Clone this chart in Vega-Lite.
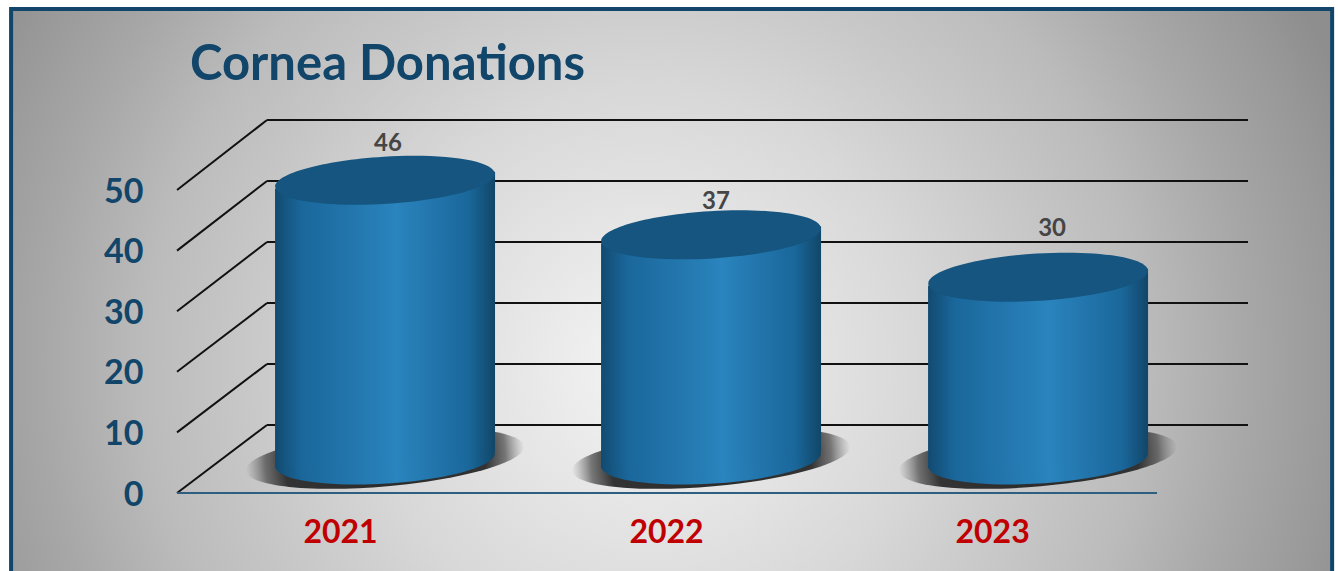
{
"$schema":"https://vega.github.io/schema/vega-lite/v6.json",
"width":1338,"height":571,"padding":0,"autosize":{"type":"none"},"background":"white",
"config":{"view":{"stroke":null},"font":"Lato"},
"title":{"text":"Cornea Donations","anchor":"start","frame":"group","orient":"top","offset":0,"dx":190,"dy":129,"baseline":"alphabetic","font":"Lato","fontSize":49,"fontWeight":"bold","color":"#12456a"},
"encoding":{
 "x":{"field":"x","type":"quantitative","title":null,"scale":{"domain":[2019.957,2024.061],"nice":false,"zero":false},"axis":{"orient":"bottom","offset":-78,"values":[2021,2022,2023],"format":"d","domain":false,"ticks":false,"grid":false,"labelPadding":24,"labelFontSize":32,"labelFontWeight":"bold","labelColor":"#c00000","labelFont":"Lato","zindex":1}},
 "y":{"field":"y","type":"quantitative","title":null,"scale":{"domain":[-12.871,81.353],"nice":false,"zero":false},"axis":{"orient":"left","offset":-177,"values":[0,10,20,30,40,50],"domain":false,"ticks":false,"grid":false,"labelPadding":34,"labelOffset":2,"labelFontSize":34,"labelFontWeight":"bold","labelColor":"#12456a","labelFont":"Lato","zindex":1}}
},
"layer":[
 {"data":{"values":[{"x":2019.991,"x2":2024.043,"y":79.87,"y2":-16}]},
  "mark":{"type":"rect","stroke":"#12456a","strokeWidth":4,"fill":{"gradient":"radial","x1":0.48,"y1":0.55,"r1":0,"x2":0.48,"y2":0.55,"r2":0.567,"stops":[{"offset":0,"color":"#f4f4f4"},{"offset":0.37,"color":"#d8d8d8"},{"offset":0.53,"color":"#c8c8c8"},{"offset":0.67,"color":"#bbbbbb"},{"offset":0.8,"color":"#a8a8a8"},{"offset":0.93,"color":"#989898"},{"offset":1,"color":"#8e8e8e"}]}},
  "encoding":{"x2":{"field":"x2"},"y2":{"field":"y2"}}},
 {"data":{"values":[
   {"x":2020.776,"x2":2023.785,"y":11.22,"y2":11.22},
   {"x":2020.776,"x2":2023.785,"y":21.29,"y2":21.29},
   {"x":2020.776,"x2":2023.785,"y":31.35,"y2":31.35},
   {"x":2020.776,"x2":2023.785,"y":41.42,"y2":41.42},
   {"x":2020.776,"x2":2023.785,"y":51.49,"y2":51.49},
   {"x":2020.776,"x2":2023.785,"y":61.55,"y2":61.55},
   {"x":2020.5,"x2":2020.776,"y":0,"y2":11.22},
   {"x":2020.5,"x2":2020.776,"y":10,"y2":21.29},
   {"x":2020.5,"x2":2020.776,"y":20,"y2":31.35},
   {"x":2020.5,"x2":2020.776,"y":30,"y2":41.42},
   {"x":2020.5,"x2":2020.776,"y":40,"y2":51.49},
   {"x":2020.5,"x2":2020.776,"y":50,"y2":61.55}
  ]},
  "mark":{"type":"rule","color":"#111111","strokeWidth":2},
  "encoding":{"x2":{"field":"x2"},"y2":{"field":"y2"}}},
 {"data":{"values":[{"x":2020.5,"x2":2023.506,"y":0,"y2":0}]},
  "mark":{"type":"rule","color":"#2f5f80","strokeWidth":2},
  "encoding":{"x2":{"field":"x2"},"y2":{"field":"y2"}}},
 {"data":{"values":[{"x":2021.138,"y":5.7},{"x":2022.138,"y":5.7},{"x":2023.141,"y":5.7}]},
  "mark":{"type":"point","filled":true,"opacity":1,"size":78000,"angle":-5,"shape":"M-1,0A1,0.2,0,1,1,1,0A1,0.2,0,1,1,-1,0Z","fill":{"gradient":"radial","x1":0.5,"y1":0.5,"r1":0,"x2":0.5,"y2":0.5,"r2":0.5,"stops":[{"offset":0,"color":"#2a2a2a"},{"offset":0.72,"color":"#333333"},{"offset":0.86,"color":"rgba(70,70,70,0.7)"},{"offset":1,"color":"rgba(110,110,110,0)"}]}}},
 {"data":{"values":[{"x":2021.138,"y":5.45},{"x":2022.138,"y":5.45},{"x":2023.141,"y":5.45}]},
  "mark":{"type":"point","filled":true,"opacity":1,"size":48400,"angle":-3.5,"shape":"M-1,0A1,0.215,0,1,1,1,0A1,0.215,0,1,1,-1,0Z","fill":{"gradient":"linear","x1":0,"y1":0,"x2":1,"y2":0,"stops":[{"offset":0,"color":"#124a70"},{"offset":0.12,"color":"#1a679b"},{"offset":0.55,"color":"#2a84bd"},{"offset":0.88,"color":"#1a679b"},{"offset":1,"color":"#114668"}]}}},
 {"data":{"values":[
   {"year":2021,"x":2020.8006,"y":50.2,"y2":4.1},{"year":2021,"x":2021.4754,"y":53.0,"y2":6.8},
   {"year":2022,"x":2021.8006,"y":41.2,"y2":4.1},{"year":2022,"x":2022.4754,"y":44.0,"y2":6.8},
   {"year":2023,"x":2022.8036,"y":34.2,"y2":4.1},{"year":2023,"x":2023.4784,"y":37.0,"y2":6.8}
  ]},
  "mark":{"type":"area","opacity":1,"fill":{"gradient":"linear","x1":0,"y1":0,"x2":1,"y2":0,"stops":[{"offset":0,"color":"#124a70"},{"offset":0.12,"color":"#1a679b"},{"offset":0.55,"color":"#2a84bd"},{"offset":0.88,"color":"#1a679b"},{"offset":1,"color":"#114668"}]}},
  "encoding":{"y2":{"field":"y2"},"detail":{"field":"year"}}},
 {"data":{"values":[{"x":2021.138,"y":51.61},{"x":2022.138,"y":42.61},{"x":2023.141,"y":35.61}]},
  "mark":{"type":"point","filled":true,"opacity":1,"size":48400,"angle":-3.5,"color":"#15557f","shape":"M-1,0A1,0.215,0,1,1,1,0A1,0.215,0,1,1,-1,0Z"}},
 {"data":{"values":[{"x":2021.147,"y":57.62,"value":46},{"x":2022.153,"y":48.05,"value":37},{"x":2023.184,"y":43.59,"value":30}]},
  "mark":{"type":"text","font":"Lato","fontSize":24,"fontWeight":"bold","color":"#454545","baseline":"middle","align":"center"},
  "encoding":{"text":{"field":"value","type":"quantitative"}}}
]
}
